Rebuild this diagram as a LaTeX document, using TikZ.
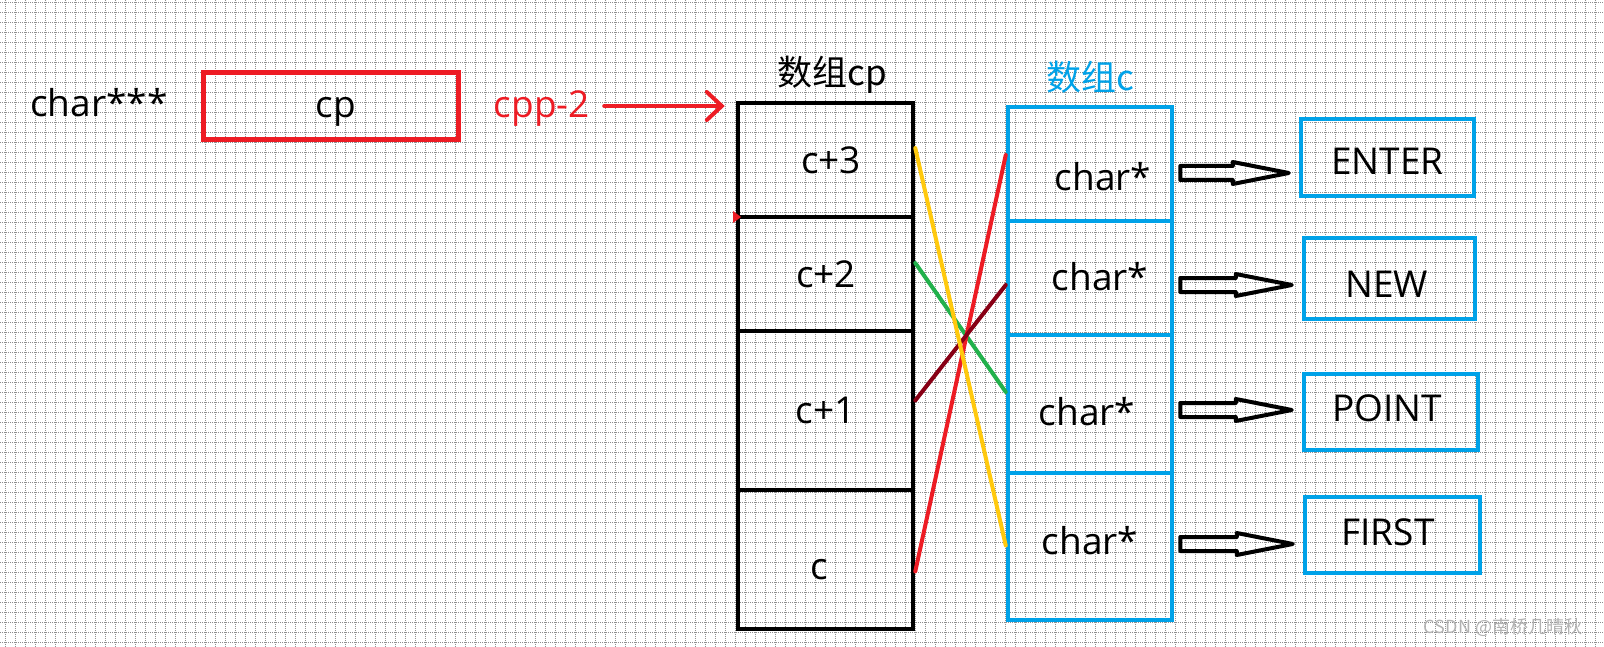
\documentclass[tikz,border=0pt]{standalone}
\usepackage{fontspec}
\setmainfont{Open Sans}
\newfontfamily\cjk{Noto Sans CJK SC}
\usetikzlibrary{calc,arrows.meta}

\definecolor{paintred}{HTML}{ED1C24}
\definecolor{paintblue}{HTML}{00A2E8}
\definecolor{paintgreen}{HTML}{22B14C}
\definecolor{paintyellow}{HTML}{FFC90E}
\definecolor{paintmaroon}{HTML}{880015}
\definecolor{gridgray}{HTML}{8E8E8E}

% hollow block arrow from one node to another at height #3
\newcommand\hollowarrow[3]{%
  \draw[hollow] let \p1=(#1.east), \p2=(#2.west), \p3=(0,#3) in
    (\x1+6pt,\y3+7pt) -- (\x2-66pt,\y3+7pt) -- (\x2-66pt,\y3+11pt)
    -- (\x2-10pt,\y3) -- (\x2-66pt,\y3-11pt) -- (\x2-66pt,\y3-7pt)
    -- (\x1+6pt,\y3-7pt) -- cycle;}

\begin{document}
\begin{tikzpicture}[x=1pt,y=-1pt,
    txt/.style={font=\fontsize{37}{40}\selectfont, inner sep=0pt},
    cell/.style={draw, line width=4.5pt, minimum width=175pt, inner sep=0pt},
    ccell/.style={draw=paintblue, line width=4.5pt, minimum width=164pt, inner sep=0pt},
    strbox/.style={draw=paintblue, line width=4.5pt, inner sep=0pt},
    link/.style={line width=4pt, line cap=round},
    hollow/.style={draw=black, line width=4pt, line join=round},
    gridline/.style={gridgray, line width=0.8pt, dash pattern=on 1pt off 1pt}]
  \def\W{1604}
  \def\H{647}
  \def\cpx{825.5}
  \def\cx{1090}

  \fill[white] (0,0) rectangle (\W,\H);
  \useasboundingbox (0,0) rectangle (\W,\H);

  % grid
  \foreach \gx in {5,15,...,1595}
    \draw[gridline] (\gx+0.5,0) -- (\gx+0.5,\H);
  \foreach \gy in {2,12,...,642}
    \draw[gridline] (0,\gy+0.5) -- (\W,\gy+0.5);

  % pointer cp
  \node[txt] (type) at (99,103) {char***};
  \node[draw=paintred, line width=5pt, minimum width=255pt, minimum height=67pt] (cp) at (331,106) {};
  \node[txt] (cplabel) at (336,112) {cp};
  \node[txt, text=paintred] (cpp) at (542,109) {cpp-2};

  % array cp
  \node[txt, font=\cjk\fontsize{35}{40}\selectfont] (cptitle) at (832,75) {数组cp};
  \node[cell, minimum height=114pt] (cp3) at (\cpx,160) {};
  \node[cell, minimum height=114pt] (cp2) at (\cpx,274) {};
  \node[cell, minimum height=159pt] (cp1) at (\cpx,410.5) {};
  \node[cell, minimum height=139pt] (cp0) at (\cpx,559.5) {};
  \fill[paintred] (733,211) -- (741,217) -- (733,223) -- cycle;

  % array c
  \node[txt, text=paintblue, font=\cjk\fontsize{35}{40}\selectfont] (ctitle) at (1090,77) {数组c};
  \node[ccell, minimum height=114pt] (c1) at (\cx,164) {};
  \node[ccell, minimum height=114pt] (c2) at (\cx,278) {};
  \node[ccell, minimum height=138pt] (c3) at (\cx,404) {};
  \node[ccell, minimum height=147pt] (c4) at (\cx,546.5) {};

  % strings
  \node[strbox, minimum width=173pt, minimum height=77pt] (enter) at (1387.5,157.5) {};
  \node[strbox, minimum width=171pt, minimum height=81pt] (new) at (1389.5,278.5) {};
  \node[strbox, minimum width=174pt, minimum height=76pt] (point) at (1391,412) {};
  \node[strbox, minimum width=175pt, minimum height=76pt] (first) at (1392.5,535) {};

  % labels
  \node[txt] (l3) at (831,160) {c+3};
  \node[txt] (l2) at (826,274) {c+2};
  \node[txt] (l1) at (825.5,410.5) {c+1};
  \node[txt] (l0) at (819.5,570) {c};
  \node[txt] (s1) at (1103,177) {char*};
  \node[txt] (s2) at (1100,277) {char*};
  \node[txt] (s3) at (1087,412) {char*};
  \node[txt] (s4) at (1090,541) {char*};
  \node[txt] (tenter) at (1387.5,161) {ENTER};
  \node[txt] (tnew) at (1386.5,284) {NEW};
  \node[txt] (tpoint) at (1387,408) {POINT};
  \node[txt] (tfirst) at (1388,532) {FIRST};

  % arrows
  \draw[paintred, line width=4pt, line cap=round, shorten >=11pt,
        -{Straight Barb[length=15pt,width=28pt,line cap=round]}]
    ([xshift=14pt,yshift=3pt]cpp.east) -- ([yshift=3pt]cpp.east -| cp3.west);
  \draw[link, paintgreen] ([yshift=11pt]cp2.east) -- ([yshift=12pt]c3.west);
  \draw[link, paintred] ([yshift=-12pt]cp0.east) -- ([yshift=9pt]c1.west);
  \draw[link, paintmaroon] ([yshift=10pt]cp1.east) -- ([yshift=-7pt]c2.west);
  \draw[link, paintyellow] ([yshift=12pt]cp3.east) -- ([yshift=1pt]c4.west);
  \hollowarrow{c1}{enter}{173}
  \hollowarrow{c2}{new}{285}
  \hollowarrow{c3}{point}{410}
  \hollowarrow{c4}{first}{544}

  % watermark
  \node[inner sep=0pt, text=gray!60, font=\cjk\fontsize{18}{20}\selectfont] (mark) at (1503,627) {CSDN @南桥几晴秋};
\end{tikzpicture}
\end{document}
